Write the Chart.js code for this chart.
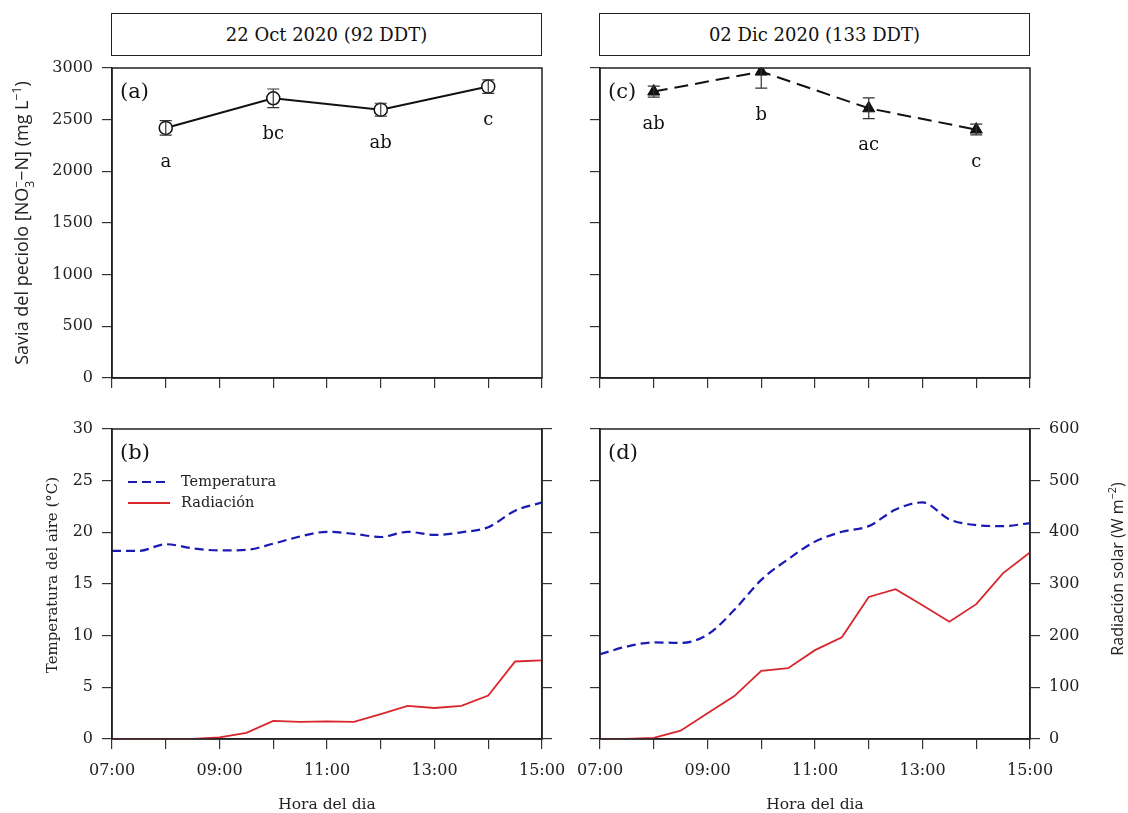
<!DOCTYPE html>
<html>
<head>
<meta charset="utf-8">
<script src="https://cdn.jsdelivr.net/npm/chart.js@4.4.1/dist/chart.umd.min.js"></script>
<style>
  html, body { margin: 0; padding: 0; background: #fff; }
  body { width: 1128px; height: 813px; position: relative; overflow: hidden; }
  canvas { position: absolute; left: 0; top: 0; }
  .tbox { position: absolute; top: 13px; height: 41px; width: 429px; border: 1.5px solid #222;
          font-family: "DejaVu Serif", serif; font-size: 18px; color: #111;
          display: flex; align-items: center; justify-content: center; box-sizing: content-box; }
</style>
</head>
<body>
<div class="tbox" id="t1" style="left:111px;"></div>
<div class="tbox" id="t2" style="left:599px;"></div>
<canvas id="cA" width="1128" height="813"></canvas>
<canvas id="cB" width="1128" height="813"></canvas>
<canvas id="cC" width="1128" height="813"></canvas>
<canvas id="cD" width="1128" height="813"></canvas>
<script>
// ---------------- DATA ----------------
const panelTitles = ["22 Oct 2020 (92 DDT)", "02 Dic 2020 (133 DDT)"];
const sapTimes = ["08:00", "10:00", "12:00", "14:00"];
const sapOct = [2420, 2707, 2597, 2820];
const sapOctErr = [70, 90, 62, 65];
const sapOctLetters = ["a", "bc", "ab", "c"];
const sapDec = [2772, 2965, 2610, 2404];
const sapDecErr = [53, 160, 100, 52];
const sapDecLetters = ["ab", "b", "ac", "c"];

const hours = ["07:00","07:30","08:00","08:30","09:00","09:30","10:00","10:30","11:00",
               "11:30","12:00","12:30","13:00","13:30","14:00","14:30","15:00"];
const tempOct = [18.2,18.2,18.85,18.45,18.25,18.3,18.9,19.6,20.05,19.85,19.55,20.05,19.75,20.0,20.5,22.1,22.9];
const radOct  = [0,0,0,0,3,12,35,33,34,33,48,64,60,64,84,150,152];
const tempDec = [8.2,8.95,9.35,9.3,10.1,12.5,15.4,17.4,19.1,20.05,20.6,22.2,22.9,21.25,20.7,20.6,20.9];
const radDec  = [0,0,2,16,50,83,132,137,172,197,275,290,259,227,261,321,361];

const xTickLabels = ["07:00","09:00","11:00","13:00","15:00"];
const sapTicks = [0, 500, 1000, 1500, 2000, 2500, 3000];
const tempTicks = [0, 5, 10, 15, 20, 25, 30];
const radTicks = [0, 100, 200, 300, 400, 500, 600];
const seriesNames = ["Temperatura", "Radiación"];
const panelLetters = ["(a)", "(b)", "(c)", "(d)"];
const xTitle = "Hora del dia";

// ---------------- HELPERS ----------------
document.getElementById('t1').textContent = panelTitles[0];
document.getElementById('t2').textContent = panelTitles[1];

const toH = s => { const [h, m] = s.split(':').map(Number); return h + m / 60; };
const fmtH = v => { const h = Math.floor(v), m = Math.round((v - h) * 60); return String(h).padStart(2,'0') + ':' + String(m).padStart(2,'0'); };
const pts = (times, vals) => times.map((t, i) => ({ x: toH(t), y: vals[i] }));

const SERIF = '"DejaVu Serif", serif';
const SANS = '"Open Sans", sans-serif';
const W = 1128, H = 813;

function drawRich(ctx, segs, cx, cy, rot, size, family, color) {
  ctx.save();
  ctx.translate(cx, cy);
  ctx.rotate(rot);
  const items = segs.map(s => {
    const fs = (s.sub || s.sup) ? size * 0.68 : size;
    ctx.font = fs + 'px ' + family;
    return Object.assign({}, s, { fs, mw: ctx.measureText(s.t).width });
  });
  let total = 0, prevX = 0, prevW = 0;
  items.forEach(it => {
    if (it.stack) { it.x = prevX; const nw = Math.max(prevW, it.mw); total = prevX + nw; prevW = nw; }
    else { it.x = total; prevX = total; prevW = it.mw; total += it.mw; }
  });
  ctx.fillStyle = color;
  ctx.textBaseline = 'alphabetic';
  ctx.textAlign = 'left';
  items.forEach(it => {
    ctx.font = it.fs + 'px ' + family;
    const dy = it.sub ? size * 0.28 : (it.sup ? -size * 0.42 : 0);
    ctx.fillText(it.t, it.x - total / 2, size * 0.36 + dy);
  });
  ctx.restore();
}

const decoPlugin = {
  id: 'deco',
  afterDatasetsDraw(chart) {
    const o = chart.options.plugins.deco || {};
    const ctx = chart.ctx, a = chart.chartArea;
    const xs = chart.scales.x, ys = chart.scales.y;
    ctx.save();
    if (o.err) {
      ctx.save();
      ctx.beginPath(); ctx.rect(a.left, a.top - 1, a.right - a.left, a.bottom - a.top + 2); ctx.clip();
      ctx.strokeStyle = '#333'; ctx.lineWidth = 1.2;
      o.err.times.forEach((t, i) => {
        const x = xs.getPixelForValue(toH(t));
        const y1 = ys.getPixelForValue(o.err.vals[i] + o.err.e[i]);
        const y2 = ys.getPixelForValue(o.err.vals[i] - o.err.e[i]);
        ctx.beginPath();
        ctx.moveTo(x, y1); ctx.lineTo(x, y2);
        ctx.moveTo(x - 6, y1); ctx.lineTo(x + 6, y1);
        ctx.moveTo(x - 6, y2); ctx.lineTo(x + 6, y2);
        ctx.stroke();
      });
      ctx.restore();
      ctx.fillStyle = '#111';
      ctx.font = '18px ' + SERIF;
      ctx.textAlign = 'center'; ctx.textBaseline = 'middle';
      o.err.times.forEach((t, i) => {
        const x = xs.getPixelForValue(toH(t));
        const y2 = ys.getPixelForValue(o.err.vals[i] - o.err.e[i]);
        ctx.fillText(o.err.letters[i], x, y2 + 27);
      });
    }
    ctx.restore();
  },
  afterDraw(chart) {
    const o = chart.options.plugins.deco || {};
    const ctx = chart.ctx, a = chart.chartArea;
    ctx.save();
    ctx.strokeStyle = '#222'; ctx.lineWidth = 1.5;
    ctx.strokeRect(a.left, a.top, a.right - a.left, a.bottom - a.top);
    ctx.fillStyle = '#111';
    ctx.font = '21px ' + SERIF;
    ctx.textAlign = 'left'; ctx.textBaseline = 'middle';
    ctx.fillText(o.panel, a.left + 8, a.top + 25);
    if (o.legend) {
      ctx.font = '14.5px ' + SERIF;
      chart.data.datasets.forEach((ds, i) => {
        const y = a.top + 53 + i * 21;
        ctx.save();
        ctx.strokeStyle = ds.borderColor; ctx.lineWidth = ds.borderWidth;
        ctx.setLineDash(ds.borderDash || []);
        ctx.beginPath(); ctx.moveTo(a.left + 16, y); ctx.lineTo(a.left + 58, y); ctx.stroke();
        ctx.restore();
        ctx.fillStyle = '#222';
        ctx.fillText(ds.label, a.left + 69, y);
      });
    }
    if (o.xTitle) {
      ctx.font = '15.5px ' + SERIF;
      ctx.textAlign = 'center'; ctx.textBaseline = 'middle';
      ctx.fillStyle = '#222';
      ctx.fillText(o.xTitle, (a.left + a.right) / 2, 805);
    }
    (o.titles || []).forEach(tt => drawRich(ctx, tt.segs, tt.x, tt.y, -Math.PI / 2, tt.size, tt.family, '#222'));
    ctx.restore();
  }
};

function xScale(showLabels) {
  return {
    type: 'linear', min: 7, max: 15,
    afterFit(s) { s.height = 60; },
    border: { display: true, color: '#222', width: 1.5 },
    grid: { display: true, drawOnChartArea: false, drawTicks: true, tickLength: 10, color: '#333', lineWidth: 1.2 },
    ticks: {
      stepSize: 1, autoSkip: false, maxRotation: 0, padding: 12,
      color: showLabels ? '#222' : 'rgba(0,0,0,0)',
      font: { family: SERIF, size: 16 },
      callback: v => { const l = fmtH(v); return (showLabels && xTickLabels.includes(l)) ? l : ''; }
    }
  };
}
function yScale(pos, ticks, showLabels, width) {
  return {
    type: 'linear', position: pos, min: ticks[0], max: ticks[ticks.length - 1],
    afterFit(s) { s.width = width; },
    afterBuildTicks(s) { s.ticks = ticks.map(v => ({ value: v })); },
    border: { display: true, color: '#222', width: 1.5 },
    grid: { display: true, drawOnChartArea: false, drawTicks: true, tickLength: 10, color: '#333', lineWidth: 1.2 },
    ticks: {
      padding: 9, color: showLabels ? '#222' : 'rgba(0,0,0,0)',
      font: { family: SERIF, size: 16 },
      callback: v => showLabels ? String(v) : ''
    }
  };
}

function makeChart(id, area, datasets, scales, deco, yW, y2W) {
  return new Chart(document.getElementById(id), {
    type: 'line',
    data: { datasets },
    options: {
      responsive: false, animation: false, devicePixelRatio: 1,
      events: [],
      layout: { padding: { left: area.l - yW, right: W - area.r - y2W, top: area.t, bottom: H - area.b - 60 } },
      scales,
      plugins: { legend: { display: false }, tooltip: { enabled: false }, deco }
    },
    plugins: [decoPlugin]
  });
}

const savLabel = [
  { t: 'Savia del peciolo [NO' }, { t: '3', sub: true }, { t: '\u2212', sup: true, stack: true },
  { t: '\u2212N] (mg L' }, { t: '\u22121', sup: true }, { t: ')' }
];
const tempLabel = [{ t: 'Temperatura del aire (°C)' }];
const radLabel = [{ t: 'Radiación solar (W m' }, { t: '\u22122', sup: true }, { t: ')' }];

// (a)
makeChart('cA', { l: 112, r: 542, t: 68, b: 378 },
  [{ data: pts(sapTimes, sapOct), borderColor: '#111', borderWidth: 2, pointStyle: 'circle', pointRadius: 6.5,
     pointBackgroundColor: '#fff', pointBorderColor: '#111', pointBorderWidth: 1.5, tension: 0 }],
  { x: xScale(false), y: yScale('left', sapTicks, true, 60) },
  { panel: panelLetters[0], err: { times: sapTimes, vals: sapOct, e: sapOctErr, letters: sapOctLetters },
    titles: [{ segs: savLabel, x: 22, y: 223, size: 18, family: SANS }] },
  60, 0);

// (c)
makeChart('cC', { l: 600, r: 1030, t: 68, b: 378 },
  [{ data: pts(sapTimes, sapDec), borderColor: '#111', borderWidth: 2, borderDash: [14, 7], pointStyle: 'triangle', pointRadius: 7,
     pointBackgroundColor: '#111', pointBorderColor: '#111', pointBorderWidth: 1, tension: 0 }],
  { x: xScale(false), y: yScale('left', sapTicks, false, 10) },
  { panel: panelLetters[2], err: { times: sapTimes, vals: sapDec, e: sapDecErr, letters: sapDecLetters } },
  10, 0);

function climSets(temp, rad) {
  return [
    { label: seriesNames[0], data: pts(hours, temp), yAxisID: 'y', borderColor: '#1a1ab4', borderWidth: 2.2, borderDash: [9, 5],
      pointRadius: 0, cubicInterpolationMode: 'monotone' },
    { label: seriesNames[1], data: pts(hours, rad), yAxisID: 'y2', borderColor: '#d8262c', borderWidth: 1.8,
      pointRadius: 0, tension: 0 }
  ];
}

// (b)
makeChart('cB', { l: 112, r: 542, t: 429, b: 739 },
  climSets(tempOct, radOct),
  { x: xScale(true), y: yScale('left', tempTicks, true, 60), y2: yScale('right', radTicks, false, 10) },
  { panel: panelLetters[1], legend: true, xTitle,
    titles: [{ segs: tempLabel, x: 52, y: 575, size: 15, family: SERIF }] },
  60, 10);

// (d)
makeChart('cD', { l: 600, r: 1030, t: 429, b: 739 },
  climSets(tempDec, radDec),
  { x: xScale(true), y: yScale('left', tempTicks, false, 10), y2: yScale('right', radTicks, true, 60) },
  { panel: panelLetters[3], xTitle,
    titles: [{ segs: radLabel, x: 1117, y: 569, size: 16, family: SANS }] },
  10, 60);
</script>
</body>
</html>
